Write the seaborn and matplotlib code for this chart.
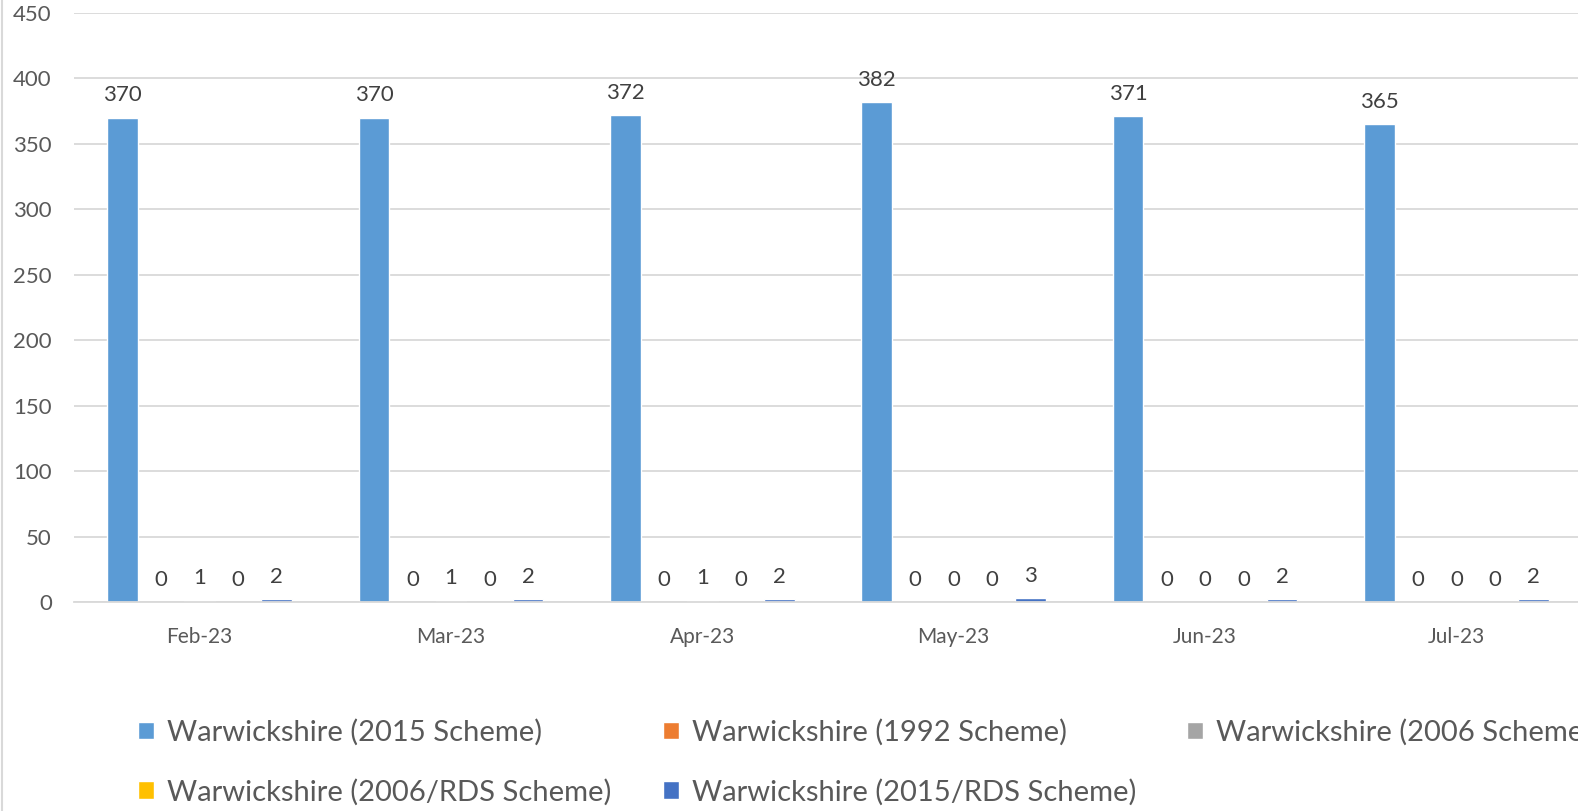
import matplotlib
matplotlib.use("Agg")
import matplotlib.pyplot as plt
import seaborn as sns
import pandas as pd
from matplotlib.lines import Line2D

months = ["Feb-23", "Mar-23", "Apr-23", "May-23", "Jun-23", "Jul-23"]
series_names = [
    "Warwickshire (2015 Scheme)",
    "Warwickshire (1992 Scheme)",
    "Warwickshire (2006 Scheme)",
    "Warwickshire (2006/RDS Scheme)",
    "Warwickshire (2015/RDS Scheme)",
]
s2015 = [370, 370, 372, 382, 371, 365]
s1992 = [0, 0, 0, 0, 0, 0]
s2006 = [1, 1, 1, 0, 0, 0]
s2006rds = [0, 0, 0, 0, 0, 0]
s2015rds = [2, 2, 2, 3, 2, 2]
colors = ["#5B9BD5", "#ED7D31", "#A5A5A5", "#FFC000", "#4472C4"]

rows = []
for name, vals in zip(series_names, [s2015, s1992, s2006, s2006rds, s2015rds]):
    for m, v in zip(months, vals):
        rows.append({"month": m, "series": name, "value": v})
df = pd.DataFrame(rows)

sns.set_style("white")
plt.rcParams["font.family"] = ["Lato", "DejaVu Sans"]

W, H = 1578, 811
fig = plt.figure(figsize=(W / 100, H / 100), dpi=100)
ax = fig.add_axes([74 / W, 209 / H, 1508 / W, 589 / H])

sns.barplot(data=df, x="month", y="value", hue="series", order=months,
            hue_order=series_names, palette=colors, width=0.766, gap=0.2,
            ax=ax, saturation=1, errorbar=None)

handles, labels = ax.get_legend_handles_labels()
ax.get_legend().remove()

for cont in ax.containers:
    ax.bar_label(cont, labels=[f"{int(round(b.get_height()))}" for b in cont],
                 padding=9, fontsize=16, color="#404040")

ax.set_ylim(0, 450)
ax.set_yticks(range(0, 451, 50))
ax.set_xlim(-0.5, 5.5)
ax.set_xlabel("")
ax.set_ylabel("")
ax.yaxis.grid(True, color="#D9D9D9", linewidth=1.3)
ax.set_axisbelow(True)
for s in ["top", "right", "left"]:
    ax.spines[s].set_visible(False)
ax.spines["bottom"].set_color("#D9D9D9")
ax.spines["bottom"].set_linewidth(1.3)
ax.tick_params(axis="y", length=0, pad=16, labelsize=16, labelcolor="#595959")
ax.tick_params(axis="x", length=0, pad=18, labelsize=15, labelcolor="#595959")

order = [0, 3, 1, 4, 2]
fig.legend([handles[i] for i in order], [labels[i] for i in order],
           loc="upper left", bbox_to_anchor=(138 / W, 1 - 719 / H),
           ncol=3, frameon=False, fontsize=21, labelcolor="#595959",
           handlelength=0.55, handleheight=0.55, handletextpad=0.45,
           columnspacing=1.75, labelspacing=1.12, borderaxespad=0,
           borderpad=0)

fig.add_artist(Line2D([2 / W, 2 / W], [0, 1], color="#D9D9D9", linewidth=1.5,
                      transform=fig.transFigure))

fig.savefig("out.png", dpi=100)
